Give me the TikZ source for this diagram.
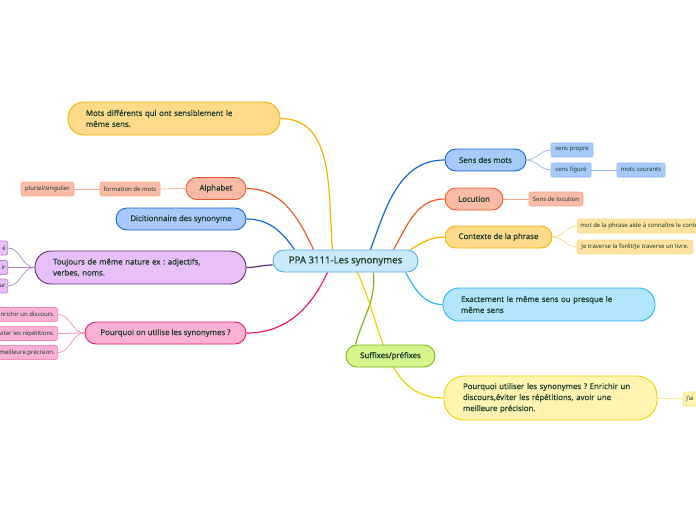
\documentclass[tikz,border=0pt]{standalone}
\usepackage{fontspec}
\setmainfont{Noto Sans}
\newfontfamily\semib{Noto Sans}[FakeBold=0.35]
\usepackage{tikz}
\usetikzlibrary{positioning,calc,backgrounds}
\usepackage{xcolor}
\definecolor{TextDark}{HTML}{1B3A2B}
\definecolor{CoreFill}{HTML}{C9EAFB}
\definecolor{CoreLine}{HTML}{5DADE2}
\definecolor{GoldFill}{HTML}{FFDA8A}
\definecolor{GoldLine}{HTML}{F5B400}
\definecolor{GoldLeaf}{HTML}{FFE2A0}
\definecolor{CoralFill}{HTML}{F9BBA6}
\definecolor{CoralLine}{HTML}{F15A24}
\definecolor{CoralLeaf}{HTML}{F7A98F}
\definecolor{BlueFill}{HTML}{A7CAFB}
\definecolor{BlueLine}{HTML}{1565D8}
\definecolor{BlueLeaf}{HTML}{8DB8F5}
\definecolor{PlumFill}{HTML}{E9BFFA}
\definecolor{PlumLine}{HTML}{5E2C73}
\definecolor{PlumLeaf}{HTML}{B585CC}
\definecolor{RoseFill}{HTML}{FBB1D6}
\definecolor{RoseLine}{HTML}{E91E63}
\definecolor{RoseLeaf}{HTML}{F48FB1}
\definecolor{SkyFill}{HTML}{B3E5FC}
\definecolor{SkyLine}{HTML}{29B6F6}
\definecolor{LimeFill}{HTML}{D5F58C}
\definecolor{LimeLine}{HTML}{7CB518}
\definecolor{LemonFill}{HTML}{FFF5B0}
\definecolor{LemonLine}{HTML}{EDD400}
\frenchspacing

\begin{document}
\begin{tikzpicture}[x=1pt, y=1pt,
    main/.style={draw, line width=0.9pt, rounded corners=11pt, minimum height=22pt, inner xsep=8pt, inner ysep=0pt, font=\semib\fontsize{7.8}{11}\selectfont, text=TextDark},
    wide/.style={main, rounded corners=16pt, text width=176pt, align=left, inner xsep=18pt, minimum height=33pt},
    leaf/.style={draw, line width=0.6pt, rounded corners=2pt, minimum height=14pt, inner xsep=3pt, inner ysep=0pt, font=\fontsize{6}{7}\selectfont, text=TextDark},
    branch/.style={line width=1.2pt},
    twig/.style={line width=0.7pt}
  ]
    \useasboundingbox (0,0) rectangle (696,-520);

    \node[main, fill=CoreFill, draw=CoreLine, minimum width=145pt, font=\semib\fontsize{9.6}{11}\selectfont] (ppa) at (345.5,-261) {PPA 3111-Les synonymes};

    % left side
    \node[wide, fill=GoldFill, draw=GoldLine] (mots) at (174,-118.5) {Mots différents qui ont sensiblement le\\même sens.};
    \node[main, fill=CoralFill, draw=CoralLine, minimum width=60pt] (alpha) at (216,-188.5) {Alphabet};
    \node[leaf, fill=CoralFill, draw=CoralLeaf, minimum width=60pt] (forma) at (130,-189) {formation de mots};
    \node[leaf, fill=CoralFill, draw=CoralLeaf, minimum width=53pt] (plur) at (47.5,-189) {pluriel/singulier};
    \node[main, fill=BlueFill, draw=BlueLine, minimum width=130pt] (dico) at (181,-219) {Dicitionnaire des synonyme};
    \node[wide, fill=PlumFill, draw=PlumLine, text width=175pt] (nature) at (140.5,-267.5) {Toujours de même nature ex : adjectifs,\\verbes, noms.};
    \node[leaf, fill=PlumFill, draw=PlumLeaf, anchor=east, inner xsep=2pt, text width=30pt, align=right] (natA) at (8,-248) {é};
    \node[leaf, fill=PlumFill, draw=PlumLeaf, anchor=east, inner xsep=2pt, text width=30pt, align=right] (natB) at (8,-267.5) {ir};
    \node[leaf, fill=PlumFill, draw=PlumLeaf, anchor=east, inner xsep=2pt, text width=30pt, align=right] (natC) at (8,-286) {ur};
    \node[main, fill=RoseFill, draw=RoseLine, minimum width=161pt] (pourq) at (165.5,-333) {Pourquoi on utilise les synonymes ?};
    \node[leaf, fill=RoseFill, draw=RoseLeaf, anchor=east] (enri) at (58,-314.5) {Enrichir un discours.};
    \node[leaf, fill=RoseFill, draw=RoseLeaf, anchor=east] (evit) at (58,-333.5) {Éviter les répétitions.};
    \node[leaf, fill=RoseFill, draw=RoseLeaf, anchor=east] (prec) at (58,-352.5) {Avoir une meilleure précision.};

    % right side
    \node[main, fill=BlueFill, draw=BlueLine, minimum width=81pt] (sens) at (485.5,-160) {Sens des mots};
    \node[leaf, fill=BlueFill, draw=BlueLeaf, minimum width=42pt] (propre) at (572,-150) {sens propre};
    \node[leaf, fill=BlueFill, draw=BlueLeaf, minimum width=40pt] (figure) at (571,-170) {sens figuré};
    \node[leaf, fill=BlueFill, draw=BlueLeaf, minimum width=48pt] (courants) at (641,-170) {mots courants};
    \node[main, fill=CoralFill, draw=CoralLine, minimum width=58pt] (locu) at (474,-199) {Locution};
    \node[leaf, fill=CoralFill, draw=CoralLeaf, minimum width=54pt] (senslocu) at (556,-199) {Sens de locution};
    \node[main, fill=GoldFill, draw=GoldLine, minimum width=107pt] (ctx) at (498.5,-237) {Contexte de la phrase};
    \node[leaf, fill=GoldLeaf, draw=GoldFill, anchor=west] (ctxA) at (577,-226) {mot de la phrase aide à connaître le contexte.};
    \node[leaf, fill=GoldLeaf, draw=GoldFill, minimum width=116pt] (ctxB) at (635,-247) {Je traverse la forêt/Je traverse un livre.};
    \node[wide, fill=SkyFill, draw=SkyLine] (exact) at (549,-304.5) {Exactement le même sens ou presque le\\même sens};
    \node[main, fill=LimeFill, draw=LimeLine, minimum width=89pt] (suff) at (390.5,-356) {Suffixes/préfixes};
    \node[wide, fill=LemonFill, draw=LemonLine, minimum height=44pt, rounded corners=20pt, text width=175pt, inner xsep=19pt] (util) at (550.5,-398) {Pourquoi utiliser les synonymes ? Enrichir un\\discours,éviter les répétitions, avoir une\\meilleure précision.};
    \node[leaf, fill=LemonFill, draw=LemonLine!60, anchor=west, text width=30pt, align=left] (jai) at (683,-399) {J'ai};

    \begin{scope}[on background layer]
    % branches from the centre
    \draw[branch, GoldLine] ([xshift=-13pt]ppa.north) to[out=95, in=0] (mots.east);
    \draw[branch, CoralLine] ([xshift=-32pt]ppa.north) to[out=115, in=0] (alpha.east);
    \draw[branch, BlueLine] ([xshift=-51pt]ppa.north) to[out=125, in=0] (dico.east);
    \draw[branch, PlumLine] ([yshift=-4pt]ppa.west) to[out=180, in=0] (nature.east);
    \draw[branch, RoseLine] ([xshift=-18pt]ppa.south) to[out=-115, in=0] (pourq.east);
    \draw[branch, BlueLine] ([xshift=25pt]ppa.north) to[out=70, in=180] (sens.west);
    \draw[branch, CoralLine] ([xshift=48pt]ppa.north) to[out=60, in=180] (locu.west);
    \draw[branch, GoldLine] ([xshift=-8pt]ppa.north east) to[out=30, in=180] (ctx.west);
    \draw[branch, SkyLine] ([xshift=60pt]ppa.south) to[out=-60, in=180] (exact.west);
    \draw[branch, LimeLine] ([xshift=28pt]ppa.south) to[out=-85, in=75] ([xshift=-35pt]suff.north);
    \draw[branch, LemonLine] ([xshift=12pt]ppa.south) to[out=-65, in=180] (util.west);

    % twigs to the leaves
    \draw[twig, CoralLeaf] (alpha.west) -- (forma.east);
    \draw[twig, CoralLeaf] (forma.west) -- (plur.east);
    \draw[twig, PlumLeaf] (nature.west) to[out=180, in=0] (natA.east);
    \draw[twig, PlumLeaf] (nature.west) to[out=180, in=0] (natB.east);
    \draw[twig, PlumLeaf] (nature.west) to[out=180, in=0] (natC.east);
    \draw[twig, RoseLeaf] (pourq.west) to[out=180, in=0] (enri.east);
    \draw[twig, RoseLeaf] (pourq.west) to[out=180, in=0] (evit.east);
    \draw[twig, RoseLeaf] (pourq.west) to[out=180, in=0] (prec.east);
    \draw[twig, BlueLeaf] (sens.east) to[out=0, in=180] (propre.west);
    \draw[twig, BlueLeaf] (sens.east) to[out=0, in=180] (figure.west);
    \draw[twig, BlueLeaf] (figure.east) -- (courants.west);
    \draw[twig, CoralLeaf] (locu.east) -- (senslocu.west);
    \draw[twig, GoldFill] (ctx.east) to[out=0, in=180] (ctxA.west);
    \draw[twig, GoldFill] (ctx.east) to[out=0, in=180] (ctxB.west);
    \draw[twig, LemonLine!60] (util.east) -- (jai.west);
    \end{scope}
  \end{tikzpicture}
\end{document}
